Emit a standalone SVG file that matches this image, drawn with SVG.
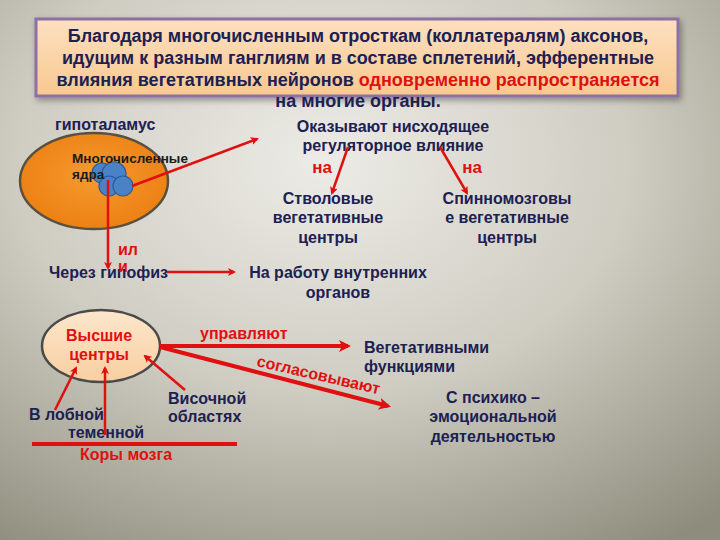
<svg xmlns="http://www.w3.org/2000/svg" width="720" height="540" viewBox="0 0 720 540">
<defs>
<radialGradient id="bg" cx="0.45" cy="0.3" r="0.85">
<stop offset="0" stop-color="#ecebe6"/>
<stop offset="0.5" stop-color="#cfcdc2"/>
<stop offset="1" stop-color="#8e8c7c"/>
</radialGradient>
<linearGradient id="box" x1="0" y1="0" x2="0" y2="1">
<stop offset="0" stop-color="#fde0c0"/>
<stop offset="1" stop-color="#f8c890"/>
</linearGradient>
<radialGradient id="orange" cx="0.5" cy="0.45" r="0.6">
<stop offset="0" stop-color="#f59a30"/>
<stop offset="1" stop-color="#ec7e10"/>
</radialGradient>
<linearGradient id="peach" x1="0" y1="0" x2="0" y2="1">
<stop offset="0" stop-color="#fde6cc"/>
<stop offset="1" stop-color="#f8cfa0"/>
</linearGradient>
<filter id="sh" x="-10%" y="-20%" width="120%" height="140%">
<feDropShadow dx="2" dy="3" stdDeviation="3" flood-color="#000" flood-opacity="0.35"/>
</filter>
<marker id="ar" markerWidth="8" markerHeight="8" refX="6" refY="4" orient="auto" markerUnits="userSpaceOnUse">
<path d="M0,0 L8,4 L0,8 L2,4 Z" fill="#e01010"/>
</marker>
<marker id="arb" markerWidth="12" markerHeight="12" refX="9" refY="6" orient="auto" markerUnits="userSpaceOnUse">
<path d="M0,0 L12,6 L0,12 L3,6 Z" fill="#e01010"/>
</marker>
</defs>
<style>
text{font-family:"Liberation Sans",Arial,sans-serif;font-weight:bold;}
.t{fill:#1c2052;font-size:16px;}
.r{fill:#e01010;}
.title{fill:#1c2052;font-size:18px;}
.c{stroke:#e01010;stroke-width:2.5;fill:none;}
.cb{stroke:#e01010;stroke-width:4;fill:none;}
</style>
<rect x="0" y="0" width="720" height="540" fill="url(#bg)"/>

<g id="title">
<rect x="36" y="19" width="642" height="77" fill="url(#box)" stroke="#8c6fa6" stroke-width="3" filter="url(#sh)"/>
<text class="title" x="358" y="42" text-anchor="middle">Благодаря многочисленным отросткам (коллатералям) аксонов,</text>
<text class="title" x="358" y="64" text-anchor="middle">идущим к разным ганглиям и в составе сплетений, эфферентные</text>
<text class="title" x="358" y="86" text-anchor="middle">влияния вегетативных нейронов <tspan class="r">одновременно распространяется</tspan></text>
<text class="title r" x="358" y="107" text-anchor="middle">на многие органы.</text>
</g>

<g id="hypothalamus">
<text class="t" x="55" y="130">гипоталамус</text>
<ellipse cx="94" cy="181" rx="74" ry="48" fill="url(#orange)" stroke="#5a5040" stroke-width="2.5"/>
<g fill="#4a82c8" stroke="#2a5a9a" stroke-width="1.2">
<circle cx="102" cy="173" r="10"/>
<circle cx="114" cy="174" r="12"/>
<circle cx="109" cy="186" r="10"/>
<circle cx="123" cy="186" r="10"/>
</g>
<text x="72" y="163" fill="#1a1a1a" font-size="13.5">Многочисленные</text>
<text x="72" y="179" fill="#1a1a1a" font-size="13.5">ядра</text>
</g>

<g id="descending">
<text class="t" x="393" y="132" text-anchor="middle">Оказывают нисходящее</text>
<text class="t" x="393" y="151" text-anchor="middle">регуляторное влияние</text>
</g>
<g id="brainstem">
<text class="t" x="328" y="204" text-anchor="middle">Стволовые</text>
<text class="t" x="328" y="223" text-anchor="middle">вегетативные</text>
<text class="t" x="328" y="243" text-anchor="middle">центры</text>
</g>
<g id="spinal">
<text class="t" x="507" y="204" text-anchor="middle">Спинномозговы</text>
<text class="t" x="507" y="223" text-anchor="middle">е вегетативные</text>
<text class="t" x="507" y="243" text-anchor="middle">центры</text>
</g>
<g id="hypophysis">
<text class="t" x="49" y="278">Через гипофиз</text>
</g>
<g id="organs">
<text class="t" x="338" y="278" text-anchor="middle">На работу внутренних</text>
<text class="t" x="338" y="298" text-anchor="middle">органов</text>
</g>

<g id="higher">
<ellipse cx="101" cy="346" rx="59" ry="36" fill="url(#peach)" stroke="#4a4a4a" stroke-width="2.5"/>
<text class="r" x="99" y="341" font-size="16" text-anchor="middle">Высшие</text>
<text class="r" x="99" y="360" font-size="16" text-anchor="middle">центры</text>
</g>
<g id="vegetative">
<text class="t" x="364" y="353">Вегетативными</text>
<text class="t" x="364" y="372">функциями</text>
</g>
<g id="psycho">
<text class="t" x="493" y="403" text-anchor="middle">С психико –</text>
<text class="t" x="493" y="422" text-anchor="middle">эмоциональной</text>
<text class="t" x="493" y="442" text-anchor="middle">деятельностью</text>
</g>
<g id="cortex">
<text class="t" x="29" y="420">В лобной</text>
<text class="t" x="68" y="438">теменной</text>
<text class="t" x="168" y="404">Височной</text>
<text class="t" x="168" y="422">областях</text>
<text class="r" x="80" y="460" font-size="16">Коры мозга</text>
</g>

<g id="connectors">
<line class="c" x1="132" y1="186" x2="257" y2="139" marker-end="url(#ar)"/>
<line class="c" x1="108" y1="180" x2="108" y2="268" marker-end="url(#ar)"/>
<line class="c" x1="167" y1="272" x2="234" y2="272" marker-end="url(#ar)"/>
<line class="c" x1="348" y1="147" x2="332" y2="193" marker-end="url(#ar)"/>
<line class="c" x1="440" y1="147" x2="467" y2="193" marker-end="url(#ar)"/>
<line class="cb" x1="160" y1="346" x2="348" y2="346" marker-end="url(#arb)"/>
<line class="cb" x1="160" y1="347" x2="388" y2="406" marker-end="url(#arb)"/>
<line class="c" x1="55" y1="410" x2="76" y2="368" marker-end="url(#ar)"/>
<line class="c" x1="105" y1="435" x2="105" y2="368" marker-end="url(#ar)"/>
<line class="c" x1="185" y1="390" x2="145" y2="356" marker-end="url(#ar)"/>
<line class="cb" x1="32" y1="444" x2="237" y2="444"/>
<text class="r" x="118" y="255" font-size="16">ил</text>
<text class="r" x="118" y="272" font-size="16">и</text>
<text class="r" x="322" y="173" font-size="17" text-anchor="middle">на</text>
<text class="r" x="472" y="173" font-size="17" text-anchor="middle">на</text>
<text class="r" x="200" y="339" font-size="16">управляют</text>
<text class="r" font-size="16" transform="translate(256,366) rotate(13)">согласовывают</text>
</g>
</svg>
